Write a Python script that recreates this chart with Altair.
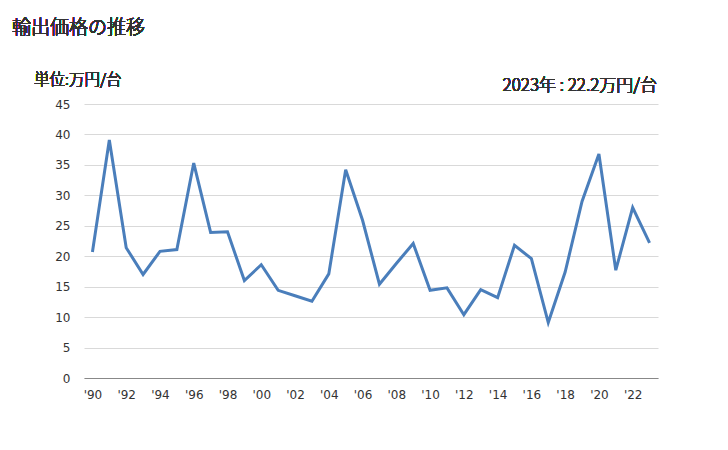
import altair as alt
import pandas as pd

years = list(range(1990, 2024))
values = [20.7, 39.1, 21.4, 17.0, 20.8, 21.1, 35.3, 23.9, 24.0, 16.0,
          18.6, 14.4, 13.5, 12.6, 17.1, 34.2, 25.9, 15.4, 18.8, 22.1,
          14.4, 14.8, 10.4, 14.5, 13.2, 21.8, 19.6, 9.1, 17.4, 29.0,
          36.8, 17.7, 28.0, 22.2]
tick_years = [str(y) for y in range(1990, 2024, 2)]

df = pd.DataFrame({"year": [str(y) for y in years], "value": values})

FONT = "Noto Sans CJK JP"
TICKFONT = "DejaVu Sans"

base = alt.Chart(df)

line = base.mark_line(color="#4a7ebb", strokeWidth=3).encode(
    x=alt.X("year:O",
            scale=alt.Scale(type="point", padding=0.5),
            axis=alt.Axis(values=tick_years, labelExpr="\"'\" + substring(datum.label, 2, 4)",
                          labelAngle=0, ticks=False, domainColor="#888888",
                          labelPadding=11, labelFontSize=12, labelColor="#333333",
                          labelFont=TICKFONT, title=None, grid=False)),
    y=alt.Y("value:Q",
            scale=alt.Scale(domain=[0, 45]),
            axis=alt.Axis(values=list(range(0, 50, 5)), ticks=False, domain=False,
                          gridColor="#d9d9d9", labelPadding=14, labelFontSize=12,
                          labelColor="#333333", labelFont=TICKFONT, title=None)),
)

title = base.mark_text(align="left", baseline="middle", fontSize=19, font=FONT,
                       fontWeight=200, color="#333333").encode(
    x=alt.value(-72), y=alt.value(-76), text=alt.value("輸出価格の推移"))
unit = base.mark_text(align="left", baseline="middle", fontSize=15.5, font=FONT,
                      fontWeight=200, color="#333333").encode(
    x=alt.value(-50), y=alt.value(-24), text=alt.value("単位:万円/台"))
latest = base.mark_text(align="right", baseline="middle", fontSize=17, font=FONT,
                        fontWeight=200, color="#333333").encode(
    x=alt.value(573), y=alt.value(-18), text=alt.value("2023年 : 22.2万円/台"))

chart = alt.layer(line, title, unit, latest).properties(
    width=574, height=274,
    autosize=alt.AutoSizeParams(type="none"),
    padding={"left": 84, "top": 104, "right": 70, "bottom": 72},
).configure_view(stroke=None)

chart.save("out.html", embed_options={"renderer": "svg", "actions": False})
